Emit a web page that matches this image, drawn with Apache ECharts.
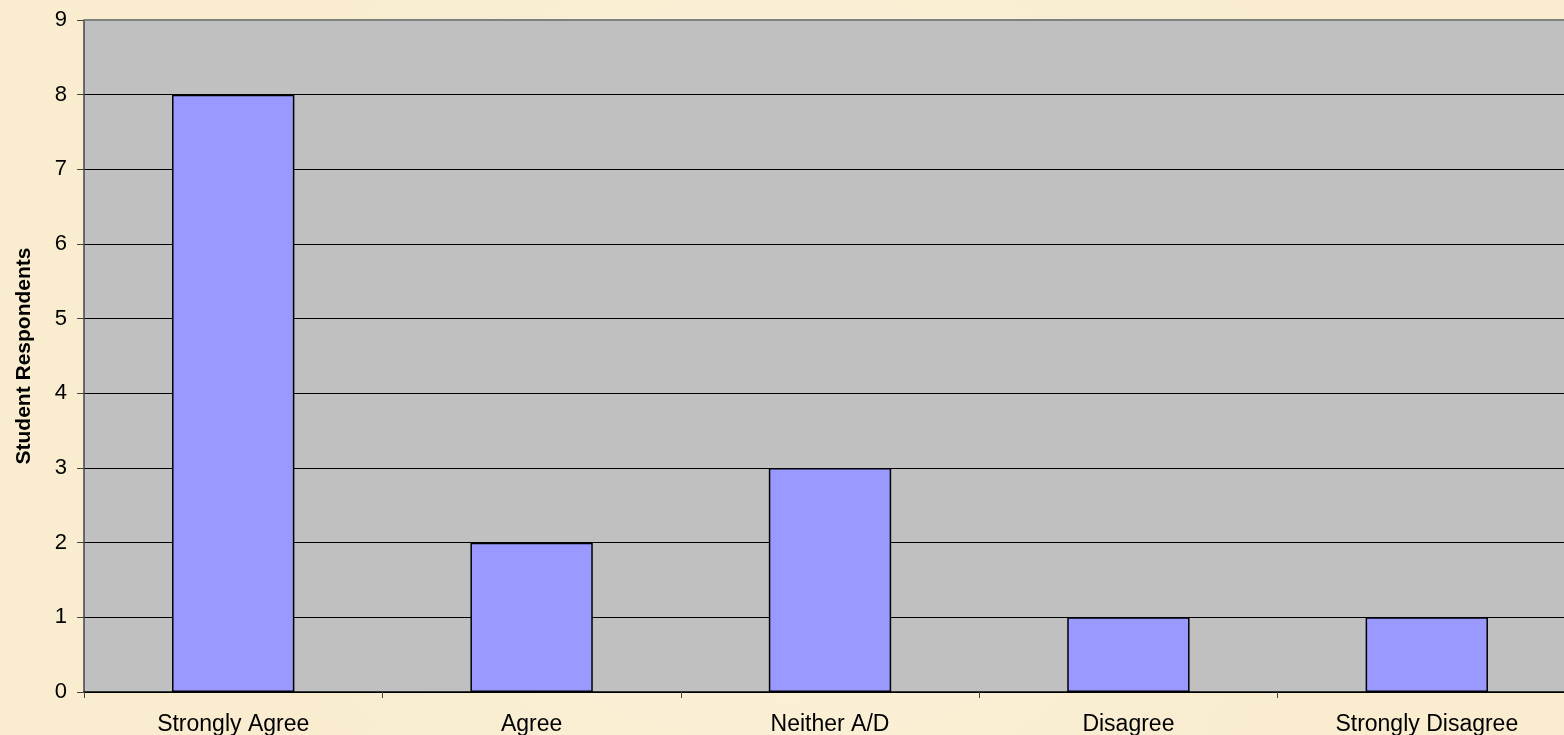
<!DOCTYPE html>
<html><head><meta charset="utf-8">
<script src="https://cdn.jsdelivr.net/npm/echarts@6/dist/echarts.min.js"></script>
<style>html,body{margin:0;padding:0;background:#FBF0D6;overflow:hidden;}#c{width:1576px;height:735px;}</style>
</head><body><div id="c"></div>
<script>
const categories = ["Strongly Agree", "Agree", "Neither A/D", "Disagree", "Strongly Disagree"];
const respondents = [8, 2, 3, 1, 1];
const yAxisTitle = "Student Respondents";

const chart = echarts.init(document.getElementById('c'), null, {renderer: 'canvas'});
chart.setOption({
  backgroundColor: {
    type: 'radial', x: 0.5, y: 0.5, r: 0.8,
    colorStops: [{offset: 0, color: '#FDF3DC'}, {offset: 1, color: '#F9ECCF'}]
  },
  animation: false,
  grid: {left: 84, top: 20, bottom: 43, right: 0, show: true, backgroundColor: '#C0C0C0', borderWidth: 0,
         containLabel: false, outerBoundsMode: 'none'},
  xAxis: {
    type: 'category', data: categories,
    axisLine: {show: true, lineStyle: {color: '#000', width: 1.5}},
    axisTick: {show: true, alignWithLabel: false, length: 6, lineStyle: {color: '#444'}},
    axisLabel: {color: '#000', fontFamily: 'Liberation Sans, Arial', fontSize: 23, margin: 21},
    splitLine: {show: false}
  },
  yAxis: {
    type: 'value', min: 0, max: 9, interval: 1,
    name: yAxisTitle, nameLocation: 'middle', nameGap: 49, nameRotate: 90, nameMoveOverlap: false,
    nameTextStyle: {color: '#000', fontFamily: 'Liberation Sans, Arial', fontSize: 21, fontWeight: 'bold'},
    axisLine: {show: true, lineStyle: {color: '#444', width: 1.5}},
    axisTick: {show: true, length: 7, lineStyle: {color: '#444'}},
    axisLabel: {color: '#000', fontFamily: 'Liberation Sans, Arial', fontSize: 22, margin: 17},
    splitLine: {show: true, lineStyle: {color: '#000', width: 1}}
  },
  series: [{
    type: 'bar', data: respondents, barWidth: '41%',
    itemStyle: {color: '#9999FF', borderColor: '#000', borderWidth: 1.5}
  }]
});
chart.getZr().add(new echarts.graphic.Line({
  shape: {x1: 84, y1: 20, x2: 1576, y2: 20},
  style: {stroke: '#808080', lineWidth: 2}, z: 10
}));
</script></body></html>
